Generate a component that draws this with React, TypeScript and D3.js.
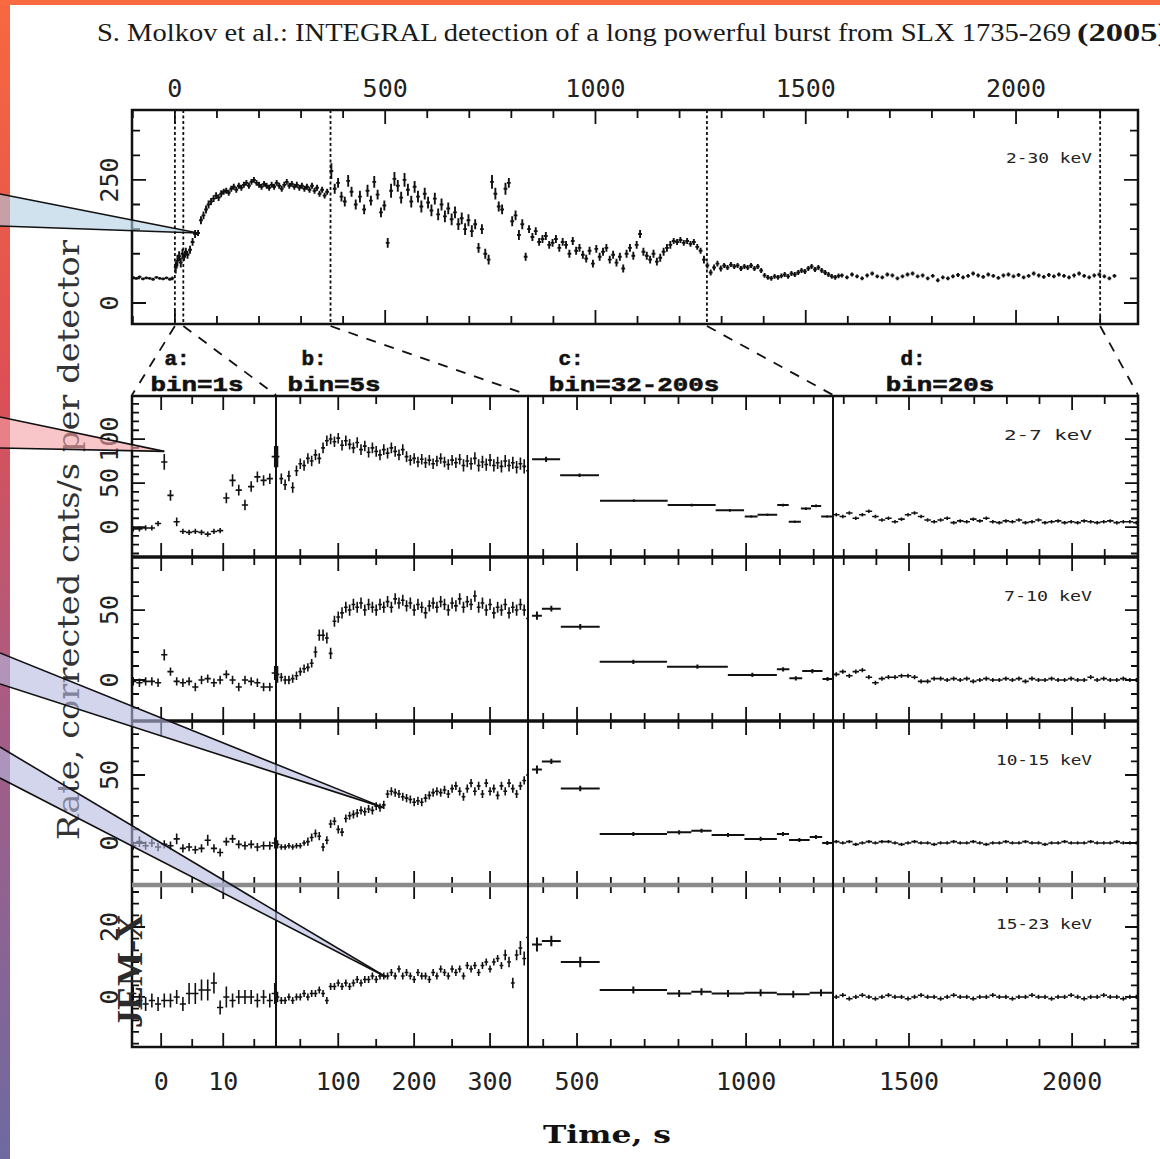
import React from 'react';
import * as d3 from 'd3';

// ---------- text ----------
const titleMain = 'S. Molkov et al.: INTEGRAL detection of a long powerful burst from SLX 1735-269';
const titleYear = '(2005)';
const yAxisTitle = 'Rate, corrected cnts/s per detector';
const xAxisTitle = 'Time, s';
const instrumentLabel = 'JEM-X';
const topBandLabel = '2-30 keV';
const bandLabels = ['2-7  keV', '7-10 keV', '10-15 keV', '15-23 keV'];
const segLetters = ['a:', 'b:', 'c:', 'd:'];
const segBins = ['bin=1s', 'bin=5s', 'bin=32-200s', 'bin=20s'];
const topXTickLabels = [0, 500, 1000, 1500, 2000];
const topYTickLabels = [0, 250];
const segTickLabels = [[0, 10], [100, 200, 300], [500, 1000], [1500, 2000]];
const rowYTickLabels = [[0, 50, 100], [0, 50], [0, 50], [0, 20]];
const zoomMarks = [0, 20, 370, 1265, 2200];

// ---------- top panel, 2-30 keV: [time s, rate, half error] ----------
const topRate = [
  [-100, 52, 3], [-92, 50, 3], [-84, 53, 3], [-76, 49, 3], [-68, 51, 3], [-60, 50, 3], [-52, 48, 3], [-44, 52, 3], [-36, 50, 3], [-28, 49, 3], [-20, 51, 3], [-12, 48, 3], [-6, 50, 4],
  [2, 72, 12], [6, 86, 12], [10, 95, 10], [14, 82, 10], [18, 100, 10], [22, 94, 8], [26, 104, 8], [30, 98, 8], [36, 108, 8], [42, 124, 8], [48, 140, 8], [55, 142, 6], [62, 168, 8], [68, 178, 8], [74, 190, 8], [80, 200, 8], [86, 206, 7], [92, 212, 7], [98, 218, 7], [104, 214, 7], [110, 222, 7], [116, 226, 6], [122, 228, 6], [128, 224, 6], [134, 232, 6], [140, 236, 6], [146, 230, 6], [152, 238, 6], [158, 234, 6], [164, 240, 6], [170, 244, 6], [176, 238, 6], [182, 246, 6], [188, 250, 6], [194, 244, 6], [200, 240, 6], [206, 236, 6], [212, 242, 6], [218, 238, 6], [224, 234, 6], [230, 240, 6], [236, 236, 6], [242, 244, 6], [248, 238, 6], [254, 232, 6], [260, 240, 6], [266, 246, 6], [272, 238, 6], [278, 242, 6], [284, 236, 6], [290, 240, 6], [296, 234, 6], [302, 238, 6], [308, 232, 6], [314, 236, 6], [320, 230, 6], [326, 238, 6], [332, 228, 6], [338, 234, 6], [344, 222, 6], [350, 230, 6], [356, 218, 6], [362, 226, 6],
  [372, 268, 16], [380, 232, 10], [388, 244, 10], [396, 216, 10], [404, 206, 10], [412, 248, 12], [420, 226, 10], [430, 200, 10], [440, 216, 12], [450, 190, 10], [458, 228, 12], [466, 208, 10], [474, 246, 12], [482, 220, 10], [490, 184, 10], [498, 198, 10], [506, 122, 10], [514, 228, 14], [522, 252, 14], [530, 238, 12], [538, 214, 12], [546, 250, 14], [554, 230, 12], [562, 206, 12], [570, 236, 12], [578, 216, 12], [586, 196, 12], [594, 222, 12], [602, 204, 12], [610, 188, 12], [618, 212, 12], [626, 180, 12], [634, 200, 12], [642, 176, 12], [650, 192, 12], [658, 170, 12], [666, 184, 12], [674, 160, 12], [682, 172, 12], [690, 150, 12], [698, 168, 12], [706, 146, 12], [714, 160, 10], [722, 112, 10], [730, 150, 10], [738, 100, 10], [746, 88, 10], [754, 246, 14], [762, 222, 12], [770, 196, 10], [778, 190, 10], [786, 232, 12], [794, 244, 10], [802, 166, 10], [810, 178, 10], [818, 138, 10], [826, 160, 10], [834, 94, 8], [842, 150, 8], [850, 134, 8], [858, 146, 8], [866, 124, 8], [874, 130, 8], [882, 136, 8], [890, 118, 8], [898, 122, 8], [906, 130, 8], [914, 112, 8], [922, 124, 8], [930, 118, 8], [938, 100, 8], [946, 126, 8], [954, 106, 8], [962, 112, 8], [970, 98, 8], [978, 90, 8], [986, 106, 8], [994, 80, 8], [1002, 110, 8], [1010, 94, 8], [1018, 104, 8], [1026, 112, 8], [1034, 88, 8], [1042, 98, 8], [1050, 82, 8], [1058, 94, 8], [1066, 70, 8], [1074, 100, 8], [1082, 112, 8], [1090, 96, 8], [1098, 118, 8], [1106, 140, 8], [1114, 104, 8], [1122, 96, 8], [1130, 88, 8], [1138, 100, 8], [1146, 84, 8], [1154, 92, 8], [1162, 104, 8], [1170, 112, 8], [1178, 118, 8], [1186, 126, 6], [1194, 124, 6], [1202, 128, 6], [1210, 122, 6], [1218, 126, 6], [1226, 120, 6], [1234, 124, 6], [1242, 114, 6], [1250, 106, 6], [1258, 88, 8],
  [1266, 76, 6], [1274, 62, 6], [1282, 72, 6], [1290, 80, 6], [1298, 70, 6], [1306, 76, 5], [1314, 72, 5], [1322, 78, 5], [1330, 74, 5], [1338, 76, 5], [1346, 70, 5], [1354, 74, 5], [1362, 72, 5], [1370, 76, 5], [1378, 70, 5], [1386, 74, 5], [1394, 66, 5],
  [1402, 56, 5], [1410, 52, 5], [1418, 50, 5], [1426, 54, 5], [1434, 52, 5], [1442, 55, 5], [1450, 58, 5], [1458, 54, 5], [1466, 60, 5], [1474, 58, 5], [1482, 62, 5], [1490, 66, 5], [1498, 64, 5], [1506, 70, 5], [1514, 74, 5], [1522, 68, 5], [1530, 72, 5], [1538, 66, 5], [1546, 62, 5], [1554, 58, 5], [1562, 54, 5], [1570, 52, 5], [1578, 55, 5],
  [1586, 56, 4], [1598, 52, 4], [1610, 58, 4], [1622, 54, 4], [1634, 50, 4], [1646, 56, 4], [1658, 60, 4], [1670, 54, 4], [1682, 52, 4], [1694, 58, 4], [1706, 56, 4], [1718, 50, 4], [1730, 54, 4], [1742, 58, 4], [1754, 60, 4], [1766, 54, 4], [1778, 56, 4], [1790, 50, 4], [1802, 55, 4], [1814, 46, 4], [1826, 52, 4], [1838, 50, 4], [1850, 54, 4], [1862, 57, 4], [1874, 52, 4], [1886, 55, 4], [1898, 60, 4], [1910, 56, 4], [1922, 53, 4], [1934, 58, 4], [1946, 55, 4], [1958, 51, 4], [1970, 56, 4], [1982, 58, 4], [1994, 54, 4], [2006, 57, 4], [2018, 52, 4], [2030, 55, 4], [2042, 60, 4], [2054, 56, 4], [2066, 53, 4], [2078, 57, 4], [2090, 54, 4], [2102, 58, 4], [2114, 55, 4], [2126, 52, 4], [2138, 56, 4], [2150, 60, 4], [2162, 55, 4], [2174, 52, 4], [2186, 56, 4], [2198, 58, 4], [2210, 54, 4], [2222, 50, 4], [2234, 55, 4],
];

// ---------- 2-7 keV ----------
const p1a = [[-4.5, -2, 3], [-3.5, -2, 3], [-2.5, -1, 3], [-1.5, -1, 3], [-0.5, 4, 3], [0.5, 74, 9], [1.5, 36, 6], [2.5, 6, 5], [3.5, -5, 3], [4.5, -6, 3], [5.5, -5, 3], [6.5, -6, 3], [7.5, -8, 3], [8.5, -5, 3], [9.5, -4, 3], [10.5, 33, 6], [11.5, 53, 7], [12.5, 42, 6], [13.5, 25, 6], [14.5, 46, 6], [15.5, 57, 6], [16.5, 53, 6], [17.5, 55, 6], [18.3, 80, 12]];
const p1b = [[20, 80, 12], [25, 55, 6], [30, 48, 6], [35, 58, 6], [40, 45, 6], [45, 64, 6], [50, 72, 6], [55, 70, 6], [60, 78, 6], [65, 75, 6], [70, 82, 6], [75, 78, 6], [80, 90, 6], [85, 98, 6], [90, 100, 6], [95, 97, 6], [100, 101, 6], [105, 93, 6], [110, 98, 6], [115, 94, 6], [120, 90, 6], [125, 96, 6], [130, 88, 6], [135, 92, 6], [140, 85, 6], [145, 90, 6], [150, 86, 6], [155, 82, 6], [160, 88, 6], [165, 84, 6], [170, 90, 6], [175, 86, 6], [180, 82, 6], [185, 88, 6], [190, 80, 6], [195, 76, 6], [200, 78, 6], [205, 74, 6], [210, 77, 6], [215, 73, 6], [220, 76, 6], [225, 72, 6], [230, 75, 6], [235, 78, 6], [240, 74, 6], [245, 71, 6], [250, 76, 6], [255, 73, 6], [260, 77, 6], [265, 70, 7], [270, 75, 7], [275, 72, 7], [280, 78, 7], [285, 70, 7], [290, 74, 7], [295, 71, 7], [300, 76, 7], [305, 70, 7], [310, 73, 7], [315, 69, 7], [320, 75, 7], [325, 70, 7], [330, 73, 7], [335, 68, 7], [340, 72, 7], [345, 69, 8], [350, 64, 10]];
const p1c = [[367, 450, 77, 3], [450, 565, 59, 2], [568, 768, 30, 1.5], [768, 910, 25, 1.5], [910, 994, 19, 1.5], [996, 1034, 12, 1.5], [1034, 1092, 14, 1.5], [1092, 1126, 25, 1.5], [1126, 1162, 6, 1.5], [1162, 1192, 21, 1.5], [1192, 1222, 24, 1.5], [1222, 1257, 12, 1.5]];
const p1d = [[1277, 14, 2], [1297, 12, 2], [1317, 16, 2], [1337, 10, 2], [1357, 14, 2], [1377, 18, 2], [1397, 12, 2], [1417, 8, 2], [1437, 10, 2], [1457, 6, 2], [1477, 9, 2], [1497, 14, 2], [1517, 16, 2], [1537, 12, 2], [1557, 8, 2], [1577, 6, 2], [1597, 8, 2], [1617, 10, 2], [1637, 5, 2], [1657, 7, 2], [1677, 6, 2], [1697, 9, 2], [1717, 7, 2], [1737, 10, 2], [1757, 6, 2], [1777, 5, 2], [1797, 7, 2], [1817, 6, 2], [1837, 8, 2], [1857, 5, 2], [1877, 6, 2], [1897, 8, 2], [1917, 5, 2], [1937, 6, 2], [1957, 7, 2], [1977, 5, 2], [1997, 6, 2], [2017, 5, 2], [2037, 7, 2], [2057, 6, 2], [2077, 5, 2], [2097, 6, 2], [2117, 7, 2], [2137, 5, 2], [2157, 6, 2], [2177, 6, 2], [2197, 5, 2]];

// ---------- 7-10 keV ----------
const p2a = [[-4.5, -1, 3], [-3.5, -2, 3], [-2.5, -1, 3], [-1.5, -1, 3], [-0.5, -2, 3], [0.5, 18, 4], [1.5, 6, 3], [2.5, -1, 3], [3.5, -2, 3], [4.5, -1, 3], [5.5, -5, 3], [6.5, 0, 3], [7.5, 1, 3], [8.5, -2, 3], [9.5, 0, 3], [10.5, 4, 3], [11.5, 0, 3], [12.5, -5, 3], [13.5, 0, 3], [14.5, -1, 3], [15.5, -2, 3], [16.5, -5, 3], [17.5, -5, 3], [18.3, 5, 5]];
const p2b = [[20, 4, 6], [25, 2, 3], [30, 0, 3], [35, 0, 3], [40, 1, 3], [45, 3, 3], [50, 6, 3], [55, 8, 3], [60, 9, 3], [65, 12, 3], [70, 20, 4], [75, 32, 4], [80, 32, 4], [85, 30, 4], [90, 19, 4], [95, 42, 4], [100, 45, 4], [105, 48, 4], [110, 52, 4], [115, 50, 4], [120, 54, 4], [125, 52, 4], [130, 55, 4], [135, 50, 4], [140, 54, 4], [145, 52, 4], [150, 50, 4], [155, 54, 4], [160, 52, 4], [165, 56, 4], [170, 52, 4], [175, 58, 4], [180, 55, 4], [185, 57, 4], [190, 53, 4], [195, 55, 4], [200, 50, 4], [205, 54, 4], [210, 52, 4], [215, 48, 4], [220, 53, 4], [225, 55, 4], [230, 52, 4], [235, 56, 4], [240, 54, 4], [245, 50, 4], [250, 55, 4], [255, 53, 4], [260, 58, 4], [265, 52, 4], [270, 56, 4], [275, 54, 4], [280, 60, 4], [285, 52, 4], [290, 55, 4], [295, 50, 4], [300, 54, 4], [305, 48, 4], [310, 52, 4], [315, 50, 4], [320, 54, 4], [325, 48, 4], [330, 52, 4], [335, 50, 4], [340, 54, 4], [345, 50, 4], [350, 44, 6]];
const p2c = [[367, 396, 46, 3], [396, 452, 51, 2], [452, 567, 38, 2], [567, 766, 13, 1.5], [766, 946, 9.5, 1.5], [946, 1091, 3.6, 1.5], [1091, 1128, 7.6, 1.5], [1128, 1166, 1.2, 1.5], [1166, 1226, 6.4, 1.5], [1226, 1256, 0.7, 1.5]];
const p2d = [[1277, 4, 1.5], [1297, 6, 1.5], [1317, 3, 1.5], [1337, 6, 1.5], [1357, 7, 1.5], [1377, 2, 1.5], [1397, -2, 1.5], [1417, 1, 1.5], [1437, 2, 1.5], [1457, 2, 1.5], [1477, 3, 1.5], [1497, 3, 1.5], [1517, 2, 1.5], [1537, -1, 1.5], [1557, -1, 1.5], [1577, 1, 1.5], [1597, 1, 1.5], [1617, 0, 1.5], [1637, 1, 1.5], [1657, 0, 1.5], [1677, 1, 1.5], [1697, -1, 1.5], [1717, 0, 1.5], [1737, 1, 1.5], [1757, 0, 1.5], [1777, 0, 1.5], [1797, 1, 1.5], [1817, 0, 1.5], [1837, 1, 1.5], [1857, -1, 1.5], [1877, 1, 1.5], [1897, 0, 1.5], [1917, 0, 1.5], [1937, 1, 1.5], [1957, 0, 1.5], [1977, 0, 1.5], [1997, 1, 1.5], [2017, 0, 1.5], [2037, 0, 1.5], [2057, 2, 1.5], [2077, 0, 1.5], [2097, 1, 1.5], [2117, 0, 1.5], [2137, 0, 1.5], [2157, 1, 1.5], [2177, 0, 1.5], [2197, 0, 1.5]];

// ---------- 10-15 keV ----------
const p3a = [[-4.5, -2, 3], [-3.5, 1, 4], [-2.5, -2, 3], [-1.5, 0, 3], [-0.5, -3, 3], [0.5, -1, 3], [1.5, -2, 3], [2.5, 3, 4], [3.5, -4, 3], [4.5, -3, 3], [5.5, -5, 3], [6.5, -4, 3], [7.5, 2, 4], [8.5, -4, 3], [9.5, -7, 3], [10.5, 1, 3], [11.5, 3, 3], [12.5, -1, 3], [13.5, -2, 3], [14.5, -1, 3], [15.5, -3, 3], [16.5, -2, 3], [17.5, -2, 3], [18.3, 0, 4]];
const p3b = [[20, -1, 3], [25, -3, 2], [30, -3, 2], [35, -2, 2], [40, -3, 2], [45, -2, 2], [50, -2, 2], [55, 0, 2], [60, 1, 3], [65, 4, 3], [70, 7, 3], [75, 5, 3], [80, -3, 3], [85, 2, 3], [90, 14, 3], [95, 16, 3], [100, 10, 3], [105, 8, 3], [110, 18, 3], [115, 20, 3], [120, 21, 3], [125, 22, 3], [130, 24, 3], [135, 23, 3], [140, 25, 3], [145, 24, 3], [150, 27, 3], [155, 26, 3], [160, 28, 3], [165, 36, 3], [170, 38, 3], [175, 37, 3], [180, 36, 3], [185, 34, 3], [190, 33, 3], [195, 32, 3], [200, 30, 3], [205, 31, 3], [210, 30, 3], [215, 33, 3], [220, 35, 3], [225, 37, 3], [230, 38, 3], [235, 37, 3], [240, 39, 3], [245, 36, 3], [250, 40, 3], [255, 42, 3], [260, 38, 3], [265, 34, 3], [270, 40, 3], [275, 44, 3], [280, 38, 3], [285, 42, 3], [290, 36, 3], [295, 44, 3], [300, 38, 3], [305, 40, 3], [310, 35, 3], [315, 42, 3], [320, 38, 3], [325, 44, 3], [330, 40, 3], [335, 36, 3], [340, 42, 3], [345, 46, 3], [350, 50, 4]];
const p3c = [[367, 396, 54, 3], [396, 452, 60, 2], [452, 567, 40, 2], [567, 766, 6.6, 1.5], [766, 838, 7.8, 1.5], [838, 898, 9, 1.5], [898, 995, 5.9, 1.5], [995, 1091, 3, 1.5], [1091, 1127, 6.6, 1.5], [1127, 1188, 2.2, 1.5], [1188, 1225, 4.4, 1.5], [1225, 1255, 0, 1.5]];
const p3d = [[1277, 1, 1.2], [1297, 0, 1.2], [1317, 1, 1.2], [1337, -1, 1.2], [1357, 0, 1.2], [1377, 1, 1.2], [1397, 0, 1.2], [1417, 1, 1.2], [1437, 1, 1.2], [1457, 0, 1.2], [1477, -1, 1.2], [1497, 0, 1.2], [1517, 1, 1.2], [1537, 0, 1.2], [1557, 0, 1.2], [1577, -1, 1.2], [1597, 0, 1.2], [1617, 0, 1.2], [1637, 1, 1.2], [1657, 0, 1.2], [1677, 0, 1.2], [1697, 1, 1.2], [1717, 0, 1.2], [1737, -1, 1.2], [1757, 0, 1.2], [1777, 0, 1.2], [1797, 1, 1.2], [1817, 0, 1.2], [1837, 0, 1.2], [1857, 1, 1.2], [1877, 0, 1.2], [1897, 0, 1.2], [1917, -1, 1.2], [1937, 0, 1.2], [1957, 0, 1.2], [1977, 1, 1.2], [1997, 0, 1.2], [2017, 0, 1.2], [2037, 0, 1.2], [2057, 1, 1.2], [2077, 0, 1.2], [2097, 0, 1.2], [2117, 0, 1.2], [2137, 1, 1.2], [2157, 0, 1.2], [2177, 0, 1.2], [2197, 0, 1.2]];

// ---------- 15-23 keV ----------
const p4a = [[-4.5, 1, 2], [-3.5, -1, 2], [-2.5, -2, 2], [-1.5, -1, 2], [-0.5, -2, 2], [0.5, -1, 2], [1.5, -1, 2], [2.5, 0, 2], [3.5, -2, 2], [4.5, 1, 3], [5.5, 1, 3], [6.5, 2, 3], [7.5, 2, 3], [8.5, 4, 3], [9.5, -3, 2], [10.5, 0, 3], [11.5, -1, 2], [12.5, 0, 2], [13.5, 0, 2], [14.5, 0, 2], [15.5, -1, 2], [16.5, 0, 2], [17.5, -1, 2], [18.3, 1, 3]];
const p4b = [[20, 0, 1.5], [25, -1, 1], [30, -1, 1], [35, 0, 1], [40, -1, 1], [45, 0, 1], [50, 0, 1], [55, 1, 1], [60, 0, 1], [65, 1, 1], [70, 1, 1], [75, 2, 1], [80, 1, 1], [85, -1, 1], [90, 3, 1], [95, 3, 1], [100, 4, 1], [105, 3, 1], [110, 4, 1], [115, 3, 1], [120, 4, 1], [125, 5, 1], [130, 4, 1], [135, 5, 1], [140, 5, 1], [145, 6, 1], [150, 5, 1], [155, 6, 1], [160, 6, 1], [165, 6, 1], [170, 7, 1], [175, 6, 1], [180, 8, 1], [185, 6, 1], [190, 7, 1], [195, 6, 1], [200, 5, 1], [205, 7, 1], [210, 6, 1], [215, 6, 1], [220, 5, 1], [225, 7, 1], [230, 6, 1], [235, 8, 1], [240, 7, 1], [245, 6, 1], [250, 8, 1], [255, 7, 1], [260, 8, 1], [265, 6, 1], [270, 9, 1], [275, 8, 1], [280, 9, 1], [285, 7, 1], [290, 9, 1], [295, 10, 1], [300, 8, 1], [305, 10, 1], [310, 11, 1], [315, 9, 1], [320, 12, 1.5], [325, 10, 1.5], [330, 4, 1.5], [335, 12, 1.5], [340, 14, 2], [345, 11, 2], [350, 17, 3]];
const p4c = [[367, 396, 15, 2], [396, 452, 16, 1.5], [452, 567, 10, 1.5], [567, 766, 2, 1], [766, 838, 1, 1], [838, 898, 1.5, 1], [898, 995, 1, 1], [995, 1091, 1.2, 1], [1091, 1188, 0.8, 1], [1188, 1255, 1.2, 1]];
const p4d = [[1277, 0, 0.6], [1297, 0.5, 0.6], [1317, -0.5, 0.6], [1337, 0, 0.6], [1357, 0.5, 0.6], [1377, 0, 0.6], [1397, -0.5, 0.6], [1417, 0, 0.6], [1437, 0.5, 0.6], [1457, 0, 0.6], [1477, 0, 0.6], [1497, -0.5, 0.6], [1517, 0, 0.6], [1537, 0.5, 0.6], [1557, 0, 0.6], [1577, 0, 0.6], [1597, -0.5, 0.6], [1617, 0, 0.6], [1637, 0.5, 0.6], [1657, 0, 0.6], [1677, 0, 0.6], [1697, -0.5, 0.6], [1717, 0, 0.6], [1737, 0, 0.6], [1757, 0.5, 0.6], [1777, 0, 0.6], [1797, 0, 0.6], [1817, -0.5, 0.6], [1837, 0, 0.6], [1857, 0, 0.6], [1877, 0.5, 0.6], [1897, 0, 0.6], [1917, 0, 0.6], [1937, -0.5, 0.6], [1957, 0, 0.6], [1977, 0, 0.6], [1997, 0.5, 0.6], [2017, 0, 0.6], [2037, -0.5, 0.6], [2057, 0, 0.6], [2077, 0, 0.6], [2097, 0.5, 0.6], [2117, 0, 0.6], [2137, 0, 0.6], [2157, -0.5, 0.6], [2177, 0, 0.6], [2197, 0, 0.6]];

// ---------- callout anchors (data coordinates) ----------
const calloutAnchors = [
  { row: -1, seg: -1, t: 55, v: 142, fill: '#afcfe3', left: [194, 226] },
  { row: 0, seg: 0, t: 0.5, v: 86, fill: '#f3a0a5', left: [417, 448] },
  { row: 2, seg: 1, t: 160, v: 26, fill: '#b6b9df', left: [653, 684] },
  { row: 3, seg: 1, t: 163, v: 5.7, fill: '#b6b9df', left: [747, 778] },
];

// ---------- layout ----------
const MONO = '"DejaVu Sans Mono", monospace';
const CMONO = '"Liberation Mono", "DejaVu Sans Mono", monospace';
const SERIF = '"Liberation Serif", "Times New Roman", serif';
const DSERIF = '"DejaVu Serif", serif';
const TOP = { x0: 132, x1: 1138, y0: 110, y1: 324 };
const rowEdges = [396, 557, 721, 885, 1047];
const segEdges = [132, 276, 528, 833, 1138];
const segDomains = [[-4.7, 18.5], [18, 350], [355, 1257], [1267, 2202]];
const rowDomains = [[-34, 148.9], [-29.3, 87.9], [-30.9, 89.7], [-14.3, 32]];
const segMinorStep = [5, 50, 100, 100];
const segMajor = [[0, 10], [100, 200, 300], [500, 1000], [1500, 2000]];
const rowMinorStep = [10, 10, 10, 10 / 3];
const rowMajor = [[0, 50, 100], [0, 50], [0, 50], [0, 20]];
const lowerData = [[p1a, p1b, p1c, p1d], [p2a, p2b, p2c, p2d], [p3a, p3b, p3c, p3d], [p4a, p4b, p4c, p4d]];
const halfBin = [0.5, 2.5, 0, 10];
const letterX = [177, 314, 571, 913];
const binX = [197, 334, 634, 940];

function crossPath(pts: number[][], sx: any, sy: any, hw: number) {
  return pts
    .map(([t, v, e]) => `M${sx(t - hw)},${sy(v)}H${sx(t + hw)}M${sx(t)},${sy(v - e)}V${sy(v + e)}`)
    .join('');
}
function barPath(pts: number[][], sx: any, sy: any) {
  return pts
    .map(([t0, t1, v, e]) => {
      const xm = sx((t0 + t1) / 2);
      return `M${sx(t0)},${sy(v)}H${sx(t1)}M${xm},${sy(v - e)}V${sy(v + e)}`;
    })
    .join('');
}
function rangeIn(lo: number, hi: number, step: number) {
  const start = Math.ceil(lo / step - 1e-9) * step;
  return d3.range(start, hi + 1e-9, step);
}
const isMajor = (v: number, majors: number[]) => majors.some((m) => Math.abs(m - v) < 1e-6);

export default function App() {
  const topX = d3.scaleLinear().domain([-102, 2290]).range([TOP.x0, TOP.x1]);
  const topY = d3.scaleLinear().domain([-42.7, 392]).range([TOP.y1, TOP.y0]);
  const segX = segDomains.map((d, i) => d3.scaleLinear().domain(d).range([segEdges[i], segEdges[i + 1]]));
  const rowY = rowDomains.map((d, i) => d3.scaleLinear().domain(d).range([rowEdges[i + 1], rowEdges[i]]));

  let ticks = '';
  rangeIn(-100, 2290, 100).forEach((t) => {
    const x = topX(t);
    const L = t % 500 === 0 ? 14 : 8;
    ticks += `M${x},${TOP.y0}v${L}M${x},${TOP.y1}v${-L}`;
  });
  rangeIn(-40, 390, 50).forEach((v) => {
    const y = topY(v);
    const L = v === 0 || v === 250 ? 14 : 8;
    ticks += `M${TOP.x0},${y}h${L}M${TOP.x1},${y}h${-L}`;
  });
  rowDomains.forEach((dom, r) => {
    segDomains.forEach((sd, s) => {
      rangeIn(sd[0], sd[1], segMinorStep[s]).forEach((t) => {
        const x = segX[s](t);
        if (Math.abs(x - segEdges[s]) < 3 || Math.abs(x - segEdges[s + 1]) < 3) return;
        const L = isMajor(t, segMajor[s]) ? 14 : 8;
        ticks += `M${x},${rowEdges[r]}v${L}M${x},${rowEdges[r + 1]}v${-L}`;
      });
    });
    rangeIn(dom[0], dom[1], rowMinorStep[r]).forEach((v) => {
      const y = rowY[r](v);
      if (Math.abs(y - rowEdges[r]) < 3 || Math.abs(y - rowEdges[r + 1]) < 3) return;
      const L = isMajor(v, rowMajor[r]) ? 13 : 7;
      ticks += `M${TOP.x0},${y}h${L}M${TOP.x1},${y}h${-L}`;
    });
  });

  const topDataPath = crossPath(topRate, topX, topY, 4.5);

  const tipOf = (a: any) =>
    a.row < 0 ? [topX(a.t), topY(a.v)] : [segX[a.seg](a.t), rowY[a.row](a.v)];

  const zoomTargets = segEdges;

  return (
    <svg width={1160} height={1159} style={{ position: 'absolute', left: 0, top: 0, display: 'block' }}>
      <defs>
        <linearGradient id="bar" x1="0" y1="0" x2="0" y2="1">
          <stop offset="0" stopColor="#f8683f" />
          <stop offset="0.33" stopColor="#de4f55" />
          <stop offset="0.62" stopColor="#a65d86" />
          <stop offset="1" stopColor="#6e6aa0" />
        </linearGradient>
        {rowDomains.map((_, r) =>
          segDomains.map((__, s) => (
            <clipPath id={`c${r}${s}`} key={`${r}${s}`}>
              <rect x={segEdges[s]} y={rowEdges[r]} width={segEdges[s + 1] - segEdges[s]} height={rowEdges[r + 1] - rowEdges[r]} />
            </clipPath>
          ))
        )}
        <clipPath id="ctop">
          <rect x={TOP.x0} y={TOP.y0} width={TOP.x1 - TOP.x0} height={TOP.y1 - TOP.y0} />
        </clipPath>
      </defs>
      <rect x={0} y={0} width={1160} height={1159} fill="#ffffff" />
      <rect x={0} y={0} width={10} height={1159} fill="url(#bar)" />
      <rect x={0} y={0} width={1160} height={5} fill="#f96a40" />

      {/* title */}
      <text x={97} y={41} fontFamily={SERIF} fontSize={25} fill="#1a1a1a" textLength={974} lengthAdjust="spacingAndGlyphs">
        {titleMain}
      </text>
      <text x={1077} y={41} fontFamily={SERIF} fontSize={25} fontWeight="bold" fill="#1a1a1a" textLength={92} lengthAdjust="spacingAndGlyphs">
        {titleYear}
      </text>

      {/* top panel */}
      <g fontFamily={MONO} fontSize={25} fill="#222" textAnchor="middle">
        {topXTickLabels.map((v) => (
          <text key={v} x={topX(v)} y={97}>{v}</text>
        ))}
        {topYTickLabels.map((v) => (
          <text key={v} transform={`translate(118,${topY(v)}) rotate(-90)`}>{v}</text>
        ))}
      </g>
      {zoomMarks.map((t) => (
        <line key={t} x1={topX(t)} x2={topX(t)} y1={TOP.y0} y2={TOP.y1} stroke="#111" strokeWidth={1.8} strokeDasharray="3 2.5" />
      ))}
      <path d={topDataPath} stroke="#111" strokeWidth={1.9} fill="none" clipPath="url(#ctop)" />
      <text x={1092} y={163} fontFamily={MONO} fontSize={14} fill="#222" textAnchor="end" textLength={86} lengthAdjust="spacingAndGlyphs">
        {topBandLabel}
      </text>
      <rect x={TOP.x0} y={TOP.y0} width={TOP.x1 - TOP.x0} height={TOP.y1 - TOP.y0} fill="none" stroke="#111" strokeWidth={2.5} />

      {/* zoom connectors */}
      {zoomMarks.map((t, i) => (
        <line key={t} x1={topX(t)} y1={TOP.y1 + 2} x2={zoomTargets[i]} y2={rowEdges[0] - 1} stroke="#111" strokeWidth={1.8} strokeDasharray="10 9" />
      ))}

      {/* segment headers */}
      <g fontFamily={CMONO} fontSize={21} fontWeight="bold" fill="#111" stroke="#111" strokeWidth={0.6} textAnchor="middle">
        {segLetters.map((s, i) => (
          <text key={s} x={letterX[i]} y={365}>{s}</text>
        ))}
        {segBins.map((s, i) => (
          <text key={s} x={binX[i]} y={391} textLength={s.length * 15.5} lengthAdjust="spacingAndGlyphs">{s}</text>
        ))}
      </g>

      {/* lower panels data */}
      {lowerData.map((row, r) =>
        row.map((pts, s) => (
          <path
            key={`${r}${s}`}
            d={s === 2 ? barPath(pts, segX[s], rowY[r]) : crossPath(pts, segX[s], rowY[r], halfBin[s])}
            stroke="#111"
            strokeWidth={s === 2 ? 2 : 1.6}
            fill="none"
            clipPath={`url(#c${r}${s})`}
          />
        ))
      )}

      <path d={ticks} stroke="#111" strokeWidth={1.8} fill="none" />

      {/* lower frame */}
      <rect x={segEdges[0]} y={rowEdges[0]} width={segEdges[4] - segEdges[0]} height={rowEdges[4] - rowEdges[0]} fill="none" stroke="#111" strokeWidth={2.5} />
      {[1, 2].map((i) => (
        <line key={i} x1={segEdges[0]} x2={segEdges[4]} y1={rowEdges[i]} y2={rowEdges[i]} stroke="#111" strokeWidth={3.5} />
      ))}
      <line x1={segEdges[0]} x2={segEdges[4]} y1={rowEdges[3]} y2={rowEdges[3]} stroke="#8a8a8a" strokeWidth={4.5} />
      {[1, 2, 3].map((i) => (
        <line key={i} x1={segEdges[i]} x2={segEdges[i]} y1={rowEdges[0]} y2={rowEdges[4]} stroke="#111" strokeWidth={2} />
      ))}

      {/* band labels */}
      <g fontFamily={MONO} fontSize={14} fill="#222" textAnchor="end">
        {bandLabels.map((b, r) => (
          <text key={b} x={1092} y={rowEdges[r] + 44} textLength={b.length > 8 ? 96 : 88} lengthAdjust="spacingAndGlyphs">{b}</text>
        ))}
      </g>

      {/* lower tick labels */}
      <g fontFamily={MONO} fontSize={25} fill="#222" textAnchor="middle">
        {segTickLabels.map((labs, s) =>
          labs.map((v) => (
            <text key={`${s}-${v}`} x={segX[s](v)} y={1090}>{v}</text>
          ))
        )}
        {rowYTickLabels.map((labs, r) =>
          labs.map((v) => (
            <text key={`${r}-${v}`} transform={`translate(118,${rowY[r](v)}) rotate(-90)`}>{v}</text>
          ))
        )}
      </g>

      {/* axis titles */}
      <text transform="translate(79,540) rotate(-90)" textAnchor="middle" fontFamily={DSERIF} fontSize={29} fill="#333" textLength={600} lengthAdjust="spacingAndGlyphs">
        {yAxisTitle}
      </text>
      <text x={607} y={1143} textAnchor="middle" fontFamily={DSERIF} fontSize={24} fontWeight="bold" fill="#111" textLength={128} lengthAdjust="spacingAndGlyphs">
        {xAxisTitle}
      </text>

      {/* callouts (semi-transparent wedges) */}
      {calloutAnchors.map((a, i) => {
        const [tx, ty] = tipOf(a);
        return (
          <g key={i}>
            <polygon points={`0,${a.left[0]} ${tx},${ty} 0,${a.left[1]}`} fill={a.fill} fillOpacity={0.6} />
            <g stroke="#111" strokeWidth={1.6} fill="none">
              <line x1={0} y1={a.left[0]} x2={tx} y2={ty} />
              <line x1={0} y1={a.left[1]} x2={tx} y2={ty} />
            </g>
          </g>
        );
      })}

      <text transform="translate(142,971) rotate(-90)" textAnchor="middle" fontFamily={SERIF} fontSize={36} fontWeight="bold" fill="#2b2b2b">
        {instrumentLabel}
      </text>
    </svg>
  );
}
